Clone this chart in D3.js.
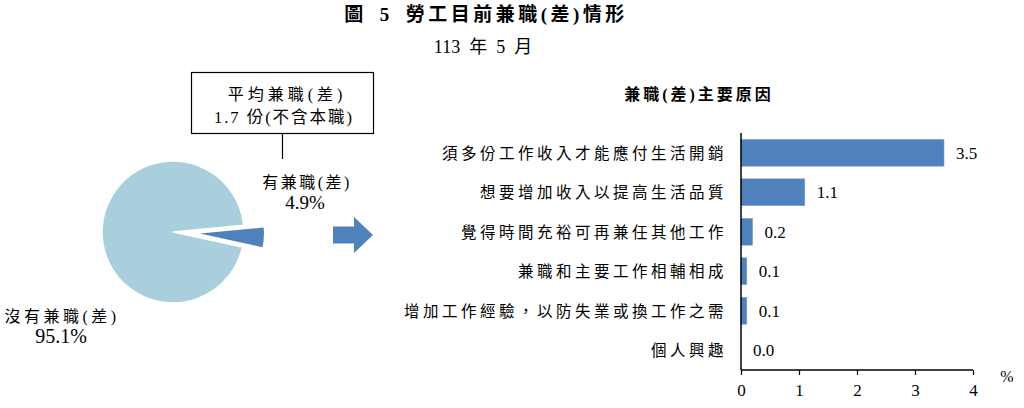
<!DOCTYPE html>
<html><head><meta charset="utf-8">
<script src="https://cdn.jsdelivr.net/npm/d3@7"></script>
<style>
body{margin:0;background:#fff;}
svg{display:block;}
text{font-family:"Liberation Serif","Times New Roman","Noto Sans CJK TC",serif;fill:#000;white-space:pre;}
</style></head>
<body>
<svg id="c" width="1024" height="408"></svg>
<script>
const pieLabels = ["有兼職(差)", "沒有兼職(差)"];
const pieValues = [4.9, 95.1];
const categories = ["須多份工作收入才能應付生活開銷","想要增加收入以提高生活品質","覺得時間充裕可再兼任其他工作","兼職和主要工作相輔相成","增加工作經驗，以防失業或換工作之需","個人興趣"];
const values = [3.5, 1.1, 0.2, 0.1, 0.1, 0.0];
const xTicks = [0, 1, 2, 3, 4];

const svg = d3.select("#c");

// Titles
svg.append("text").attr("x", 486).attr("y", 21).attr("text-anchor", "middle")
  .attr("font-size", 19).attr("font-weight", "bold").style("letter-spacing", "3.5px")
  .text("圖\u20025\u2002勞工目前兼職(差)情形");
svg.append("text").attr("x", 483).attr("y", 53).attr("text-anchor", "middle")
  .attr("font-size", 18).text("113\u2002年\u20025\u2002月");

// Pie
const cx = 173, cy = 232, R = 71;
const pie = d3.pie().sort(null).startAngle(84.6 * Math.PI / 180).endAngle(84.6 * Math.PI / 180 + 2 * Math.PI);
const arcs = pie(pieValues);
const g = svg.append("g").attr("transform", `translate(${cx},${cy})`);
const colors = ["#4F81BD", "#A9CEDC"];
arcs.forEach((a, i) => {
  let dx = 0, dy = 0, r = R;
  if (i === 0) {
    const mid = (a.startAngle + a.endAngle) / 2;
    dx = Math.sin(mid) * 27; dy = -Math.cos(mid) * 27; r = 64;
  }
  g.append("path").attr("d", d3.arc().innerRadius(0).outerRadius(r)(a))
    .attr("transform", `translate(${dx},${dy})`)
    .attr("fill", colors[i]).attr("stroke", "#fff").attr("stroke-width", i === 1 ? 1.5 : 0);
});

// Pie labels
svg.append("text").attr("x", 307).attr("y", 188).attr("text-anchor", "middle").attr("font-size", 16)
  .style("letter-spacing", "2.5px").text(pieLabels[0]);
svg.append("text").attr("x", 305).attr("y", 209).attr("text-anchor", "middle").attr("font-size", 19)
  .text(pieValues[0].toFixed(1) + "%");
svg.append("text").attr("x", 62).attr("y", 322).attr("text-anchor", "middle").attr("font-size", 16)
  .style("letter-spacing", "3.5px").text(pieLabels[1]);
svg.append("text").attr("x", 61).attr("y", 343).attr("text-anchor", "middle").attr("font-size", 20)
  .text(pieValues[1].toFixed(1) + "%");

// Callout box
svg.append("rect").attr("x", 191.5).attr("y", 72.5).attr("width", 182).attr("height", 61)
  .attr("fill", "#fff").attr("stroke", "#000").attr("stroke-width", 1.2);
svg.append("line").attr("x1", 282.5).attr("x2", 282.5).attr("y1", 133.5).attr("y2", 159)
  .attr("stroke", "#000").attr("stroke-width", 1.2);
svg.append("text").attr("x", 287).attr("y", 100).attr("text-anchor", "middle").attr("font-size", 16)
  .style("letter-spacing", "4px").text("平均兼職(差)");
svg.append("text").attr("x", 284).attr("y", 123).attr("text-anchor", "middle").attr("font-size", 16.5)
  .style("letter-spacing", "2px").text("1.7 份(不含本職)");

// Arrow
const ax = 333, ay = 235;
svg.append("path")
  .attr("d", `M${ax},${ay - 8.5}H${ax + 21}V${ay - 18}L${ax + 40},${ay}L${ax + 21},${ay + 18}V${ay + 8.5}H${ax}Z`)
  .attr("fill", "#4F81BD");

// Bar chart
const x = d3.scaleLinear().domain([0, 4]).range([741, 973]);
const y = d3.scaleBand().domain(categories).range([133, 370]).paddingInner(0.32).paddingOuter(0.16);

svg.append("text").attr("x", 699).attr("y", 100).attr("text-anchor", "middle").attr("font-size", 16)
  .attr("font-weight", "bold").style("letter-spacing", "3px").text("兼職(差)主要原因");

svg.selectAll("rect.bar").data(values).join("rect").attr("class", "bar")
  .attr("x", x(0)).attr("y", (d, i) => y(categories[i]))
  .attr("width", d => x(d) - x(0)).attr("height", y.bandwidth())
  .attr("fill", "#4F81BD").attr("stroke", "#7FA3D0").attr("stroke-width", 0.6);

svg.selectAll("text.val").data(values).join("text").attr("class", "val")
  .attr("x", d => x(d) + 12).attr("y", (d, i) => y(categories[i]) + y.bandwidth() / 2 + 6)
  .attr("font-size", 17).text(d => d.toFixed(1));

svg.selectAll("text.cat").data(categories).join("text").attr("class", "cat")
  .attr("x", 727).attr("y", d => y(d) + y.bandwidth() / 2 + 6)
  .attr("text-anchor", "end").attr("font-size", 15.5).style("letter-spacing", "3.5px").text(d => d);

const xAxis = svg.append("g").attr("transform", "translate(0,370)")
  .call(d3.axisBottom(x).tickValues(xTicks).tickSize(5).tickPadding(9).tickFormat(d3.format("d")));
xAxis.select(".domain").attr("stroke", "#000").attr("stroke-width", 1.5).attr("d", "M741,0H973");
xAxis.selectAll(".tick line").attr("stroke", "#000").attr("stroke-width", 1.2);
xAxis.selectAll(".tick text").attr("font-size", 17).attr("font-family", "Liberation Serif, serif").attr("fill", "#000");

svg.append("line").attr("x1", 741).attr("x2", 741).attr("y1", 133).attr("y2", 370)
  .attr("stroke", "#000").attr("stroke-width", 1.5);

svg.append("text").attr("x", 1007).attr("y", 382).attr("text-anchor", "middle").attr("font-size", 16).text("%");
</script>
</body></html>
